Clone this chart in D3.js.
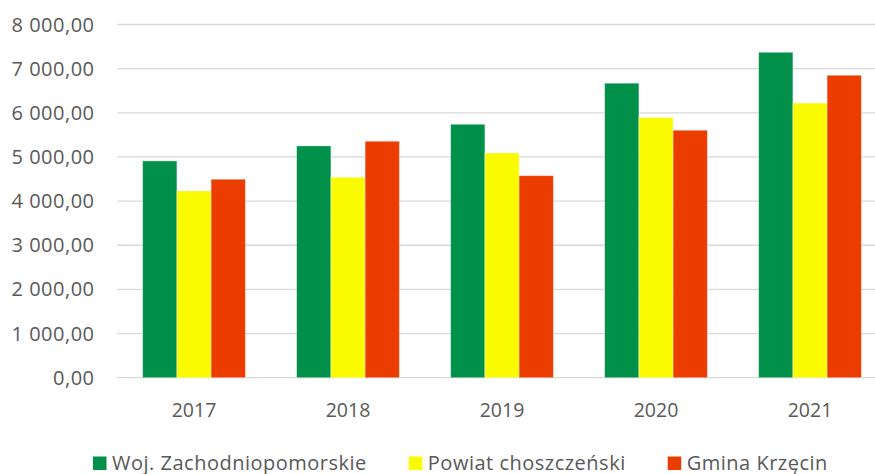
<!DOCTYPE html>
<html>
<head>
<meta charset="utf-8">
<script src="https://d3js.org/d3.v7.min.js"></script>
<style>
    body { margin: 0; background: #fff; }
    text { font-family: "Open Sans", Lato, sans-serif; fill: #595959; }
</style>
</head>
<body>
<script>
    const years = ["2017", "2018", "2019", "2020", "2021"];
    const seriesNames = ["Woj. Zachodniopomorskie", "Powiat choszczeński", "Gmina Krzęcin"];
    const seriesColors = ["#00904a", "#fafa00", "#eb3d00"];
    const wojValues = [4910, 5250, 5740, 6670, 7370];
    const powiatValues = [4230, 4540, 5090, 5890, 6220];
    const gminaValues = [4495, 5355, 4575, 5605, 6850];
    const yTicks = [0, 1000, 2000, 3000, 4000, 5000, 6000, 7000, 8000];

    const width = 875, height = 474;
    const svg = d3.select("body").append("svg").attr("width", width).attr("height", height);

    const values = [wojValues, powiatValues, gminaValues];
    const rows = years.map((y, i) => ({ year: y, vals: values.map((s, k) => ({ k, v: s[i] })) }));

    const y = d3.scaleLinear().domain([0, 8000]).range([377.7, 24.5]);
    const x0 = d3.scaleBand().domain(years).range([117, 887]);
    const groupW = x0.bandwidth() / 1.5;
    const x1 = d3.scaleBand().domain([0, 1, 2]).range([0, groupW]);

    const fmt = v => d3.format(",.2f")(v).replace(/,/g, " ").replace(".", ",");

    // gridlines
    svg.append("g").selectAll("line")
        .data(yTicks)
        .join("line")
        .attr("x1", 117).attr("x2", 887)
        .attr("y1", d => y(d)).attr("y2", d => y(d))
        .attr("stroke", "#d9d9d9")
        .attr("stroke-width", 1.3);

    // y labels
    svg.append("g").selectAll("text")
        .data(yTicks)
        .join("text")
        .attr("x", 94.5)
        .attr("y", d => y(d) + 7)
        .attr("text-anchor", "end")
        .attr("font-size", 20)
        .attr("letter-spacing", 0.5)
        .text(fmt);

    // bars
    svg.append("g").selectAll("g")
        .data(rows)
        .join("g")
        .attr("transform", d => `translate(${x0(d.year) + (x0.bandwidth() - groupW) / 2},0)`)
        .selectAll("rect")
        .data(d => d.vals)
        .join("rect")
        .attr("x", d => x1(d.k))
        .attr("y", d => y(d.v))
        .attr("width", x1.bandwidth())
        .attr("height", d => y(0) - y(d.v))
        .attr("fill", d => seriesColors[d.k])
        .attr("stroke", "#ffffff")
        .attr("stroke-opacity", 0.4)
        .attr("stroke-width", 0.8);

    // x labels
    svg.append("g").selectAll("text")
        .data(years)
        .join("text")
        .attr("x", d => x0(d) + x0.bandwidth() / 2)
        .attr("y", 416.5)
        .attr("text-anchor", "middle")
        .attr("font-size", 19.5)
        .text(d => d);

    // legend
    const legend = svg.append("g");
    let lx = 93;
    seriesNames.forEach((name, i) => {
        legend.append("rect")
            .attr("x", lx).attr("y", 456.5)
            .attr("width", 13.5).attr("height", 13.5)
            .attr("fill", seriesColors[i]);
        const t = legend.append("text")
            .attr("x", lx + 19)
            .attr("y", 469.5)
            .attr("font-size", 20)
            .attr("letter-spacing", 0.5)
            .text(name);
        lx += 19 + t.node().getComputedTextLength() + 42;
    });
</script>
</body>
</html>
